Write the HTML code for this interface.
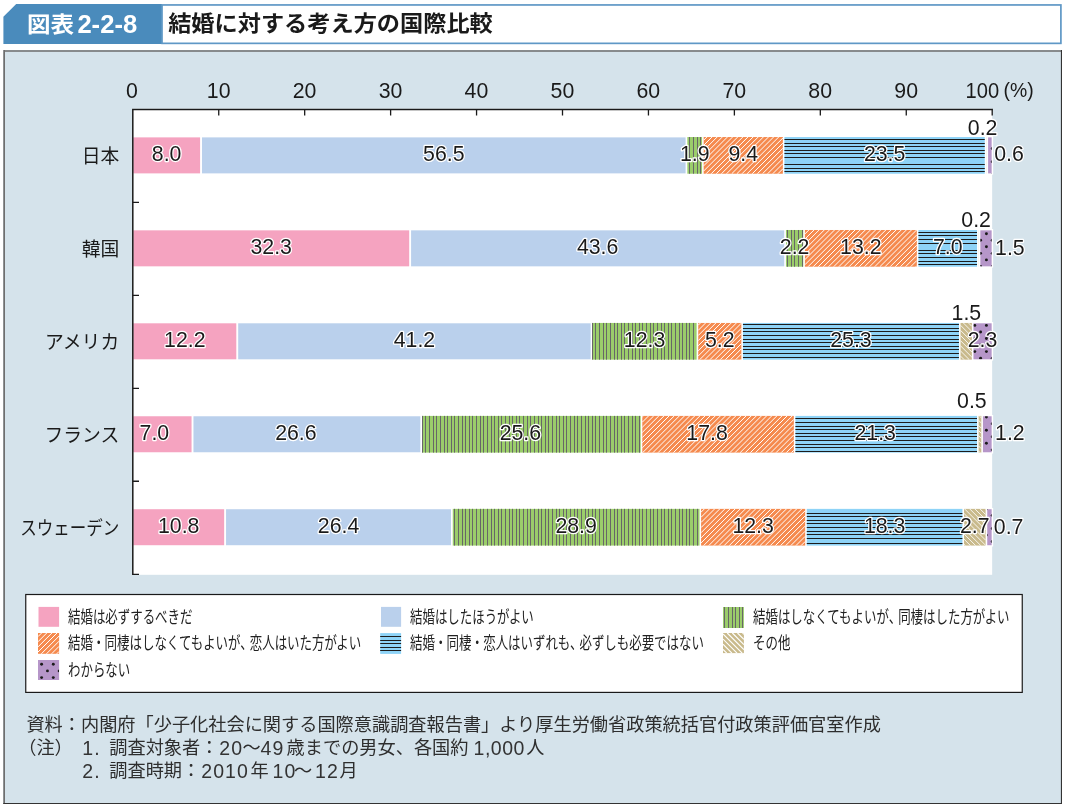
<!DOCTYPE html>
<html lang="ja">
<head>
<meta charset="utf-8">
<title>図表2-2-8 結婚に対する考え方の国際比較</title>
<style>
html,body{margin:0;padding:0;background:#fff;}
body{width:1067px;height:809px;position:relative;overflow:hidden;font-family:"Liberation Sans","Noto Sans CJK JP",sans-serif;color:#1a1a1a;}
.tab{position:absolute;left:3.4px;top:4px;width:158.6px;height:40px;}
.tab span{position:absolute;white-space:nowrap;color:#fff;font-weight:bold;}
.tab .k{left:24px;top:4px;font-size:21.6px;line-height:34px;transform:scaleX(1.09);transform-origin:0 50%;}
.tab .n{left:74px;top:3px;font-size:25.6px;line-height:34px;}
.ttl{position:absolute;left:162px;top:4px;width:899px;height:40px;}
.ttl h1{position:absolute;left:6.2px;top:0;margin:0;font-size:23.2px;line-height:38px;font-weight:bold;white-space:nowrap;color:#1a1a1a;transform:scaleY(0.95);transform-origin:0 31px;}
.chart{position:absolute;left:0;top:0;}
.chart text{font-family:"Liberation Sans","Noto Sans CJK JP",sans-serif;fill:#1a1a1a;}
.chart .v{font-size:21.3px;paint-order:stroke;stroke:#fff;stroke-width:2.5px;stroke-linejoin:round;}
.chart .a{font-size:21.3px;}
.chart .u{font-size:19.4px;}
.chart .c{font-size:18.8px;}
.legend{position:absolute;left:25px;top:594px;width:997px;height:99px;margin:0;padding:0;list-style:none;}
.legend li{position:absolute;height:20px;white-space:nowrap;}
.legend svg{position:absolute;left:0;top:0;}
.legend span{position:absolute;left:29.6px;top:-0.6px;font-size:17px;line-height:26px;font-weight:400;transform:scaleX(0.732);transform-origin:0 50%;color:#222;}
.legend i{font-style:normal;margin:0 -0.5px;}
.legend b{font-weight:inherit;margin-right:-4px;}
.notes{position:absolute;left:0;top:712px;width:1067px;height:80px;margin:0;padding:0;font-size:18.2px;line-height:24px;font-weight:400;color:#2e2e2e;white-space:nowrap;}
.notes p{position:absolute;left:0;margin:0;height:24px;width:1067px;}
.notes span{position:absolute;top:0;}
.notes .d{font-size:19.5px;letter-spacing:1.1px;color:#333;}
</style>
</head>
<body>
<svg class="chart" width="1067" height="809" viewBox="0 0 1067 809">
<polygon points="3.4,16.7 16.2,4.1 162,4.1 162,43.9 3.4,43.9" fill="#4a8bbc"/>
<rect x="162" y="4.95" width="898.9" height="38.4" fill="#fff" stroke="#5f98c6" stroke-width="1.7"/>
<rect x="3.3" y="50.1" width="1058.7" height="753.9" fill="#d5e3eb"/>
<path d="M4.15,50.1V804M3.3,51H1062" fill="none" stroke="#6e6e6e" stroke-width="1.7"/>
<path d="M1061.45,50.1V804M3.3,803.45H1062" fill="none" stroke="#333" stroke-width="1.1"/>
<rect x="25.75" y="594.5" width="996.5" height="97.9" fill="#fff" stroke="#1a1a1a" stroke-width="1.2"/>
<rect x="132" y="108.7" width="860.15" height="466.1" fill="#fff"/>
<rect x="132.3" y="136.08" width="860.85" height="38.6" fill="#fff"/>
<g class="bar">
<rect x="133.25" y="137.38" width="66.84" height="36" fill="#f5a3c0"/>
<rect x="201.99" y="137.38" width="483.6" height="36" fill="#bad0ec"/>
<rect x="687.34" y="137.03" width="14.73" height="36.7" fill="#9bcd6b"/><path d="M689.5,137.03V173.73 M693.5,137.03V173.73 M697.5,137.03V173.73 M700.5,137.03V173.73" stroke="#676767" stroke-width="1" fill="none"/>
<rect x="703.67" y="137.03" width="79.17" height="36.7" fill="#f58a4e"/><path d="M703.67,140.24L706.88,137.03 M703.67,145.37L712.01,137.03 M703.67,150.5L717.14,137.03 M703.67,155.63L722.27,137.03 M703.67,160.76L727.4,137.03 M703.67,165.89L732.53,137.03 M703.67,171.02L737.66,137.03 M706.09,173.73L742.79,137.03 M711.22,173.73L747.92,137.03 M716.35,173.73L753.05,137.03 M721.48,173.73L758.18,137.03 M726.61,173.73L763.31,137.03 M731.74,173.73L768.44,137.03 M736.87,173.73L773.57,137.03 M742,173.73L778.7,137.03 M747.13,173.73L782.84,138.02 M752.26,173.73L782.84,143.15 M757.39,173.73L782.84,148.28 M762.52,173.73L782.84,153.41 M767.65,173.73L782.84,158.54 M772.78,173.73L782.84,163.67 M777.91,173.73L782.84,168.8" stroke="#fff" stroke-width="1" fill="none"/>
<rect x="784.44" y="137.03" width="200.33" height="36.7" fill="#8ed3f7"/><path d="M784.44,139.5H984.78 M784.44,143.5H984.78 M784.44,146.5H984.78 M784.44,150.5H984.78 M784.44,153.5H984.78 M784.44,157.5H984.78 M784.44,164.5H984.78 M784.44,168.5H984.78 M784.44,171.5H984.78" stroke="#1c1c1c" stroke-width="1" fill="none"/>
<rect x="986.38" y="137.03" width="0.12" height="36.7" fill="#c9ba8c"/><path d="M986.38,171.58L986.49,171.69 M986.38,166.45L986.49,166.56 M986.38,161.32L986.49,161.43 M986.38,156.19L986.49,156.3 M986.38,151.06L986.49,151.17 M986.38,145.93L986.49,146.04 M986.38,140.8L986.49,140.91" stroke="#fff" stroke-width="0.85" fill="none"/>
<rect x="988.09" y="137.38" width="3.56" height="36" fill="#b696c9"/><clipPath id="c1"><rect x="988.09" y="137.38" width="3.56" height="36"/></clipPath><g clip-path="url(#c1)" fill="#1a1a1a"><circle cx="992.2" cy="148.55" r="1.45"/><circle cx="992.2" cy="161.65" r="1.45"/><circle cx="992.2" cy="174.75" r="1.45"/></g>
</g>
<text class="c" x="119.2" y="163.38" text-anchor="end">日本</text>
<rect x="132.3" y="229.04" width="860.85" height="38.6" fill="#fff"/>
<g class="bar">
<rect x="133.25" y="230.34" width="275.93" height="36" fill="#f5a3c0"/>
<rect x="411.08" y="230.34" width="373.13" height="36" fill="#bad0ec"/>
<rect x="785.95" y="229.99" width="17.32" height="36.7" fill="#9bcd6b"/><path d="M787.5,229.99V266.69 M791.5,229.99V266.69 M794.5,229.99V266.69 M798.5,229.99V266.69 M802.5,229.99V266.69" stroke="#676767" stroke-width="1" fill="none"/>
<rect x="804.88" y="229.99" width="111.94" height="36.7" fill="#f58a4e"/><path d="M804.88,233.97L808.86,229.99 M804.88,239.1L813.99,229.99 M804.88,244.23L819.12,229.99 M804.88,249.36L824.25,229.99 M804.88,254.49L829.38,229.99 M804.88,259.62L834.51,229.99 M804.88,264.75L839.64,229.99 M808.07,266.69L844.77,229.99 M813.2,266.69L849.9,229.99 M818.33,266.69L855.03,229.99 M823.46,266.69L860.16,229.99 M828.59,266.69L865.29,229.99 M833.72,266.69L870.42,229.99 M838.85,266.69L875.55,229.99 M843.98,266.69L880.68,229.99 M849.11,266.69L885.81,229.99 M854.24,266.69L890.94,229.99 M859.37,266.69L896.07,229.99 M864.5,266.69L901.2,229.99 M869.63,266.69L906.33,229.99 M874.76,266.69L911.46,229.99 M879.89,266.69L916.59,229.99 M885.02,266.69L916.82,234.89 M890.15,266.69L916.82,240.02 M895.28,266.69L916.82,245.15 M900.41,266.69L916.82,250.28 M905.54,266.69L916.82,255.41 M910.67,266.69L916.82,260.54 M915.8,266.69L916.82,265.67" stroke="#fff" stroke-width="1" fill="none"/>
<rect x="918.42" y="229.99" width="58.61" height="36.7" fill="#8ed3f7"/><path d="M918.42,232.5H977.03 M918.42,235.5H977.03 M918.42,239.5H977.03 M918.42,243.5H977.03 M918.42,250.5H977.03 M918.42,253.5H977.03 M918.42,257.5H977.03 M918.42,261.5H977.03 M918.42,264.5H977.03" stroke="#1c1c1c" stroke-width="1" fill="none"/>
<rect x="978.63" y="229.99" width="0.12" height="36.7" fill="#c9ba8c"/><path d="M978.63,266.43L978.75,266.55 M978.63,261.3L978.75,261.42 M978.63,256.17L978.75,256.29 M978.63,251.04L978.75,251.16 M978.63,245.91L978.75,246.03 M978.63,240.78L978.75,240.9 M978.63,235.65L978.75,235.77 M978.63,230.52L978.75,230.64" stroke="#fff" stroke-width="0.85" fill="none"/>
<rect x="980.35" y="230.34" width="11.3" height="36" fill="#b696c9"/><clipPath id="c2"><rect x="980.35" y="230.34" width="11.3" height="36"/></clipPath><g clip-path="url(#c2)" fill="#1a1a1a"><circle cx="986.4" cy="233.7" r="1.45"/><circle cx="980.6" cy="240.25" r="1.45"/><circle cx="992.2" cy="240.25" r="1.45"/><circle cx="986.4" cy="246.8" r="1.45"/><circle cx="980.6" cy="253.35" r="1.45"/><circle cx="992.2" cy="253.35" r="1.45"/><circle cx="986.4" cy="259.9" r="1.45"/><circle cx="980.6" cy="266.45" r="1.45"/><circle cx="992.2" cy="266.45" r="1.45"/></g>
</g>
<text class="c" x="119.2" y="256.34" text-anchor="end">韓国</text>
<rect x="132.3" y="322" width="860.85" height="38.6" fill="#fff"/>
<g class="bar">
<rect x="133.25" y="323.3" width="103.04" height="36" fill="#f5a3c0"/>
<rect x="238.19" y="323.3" width="352.48" height="36" fill="#bad0ec"/>
<rect x="592.42" y="322.95" width="104.2" height="36.7" fill="#9bcd6b"/><path d="M592.5,322.95V359.65 M595.5,322.95V359.65 M599.5,322.95V359.65 M603.5,322.95V359.65 M606.5,322.95V359.65 M610.5,322.95V359.65 M614.5,322.95V359.65 M617.5,322.95V359.65 M621.5,322.95V359.65 M624.5,322.95V359.65 M628.5,322.95V359.65 M632.5,322.95V359.65 M635.5,322.95V359.65 M639.5,322.95V359.65 M642.5,322.95V359.65 M646.5,322.95V359.65 M650.5,322.95V359.65 M653.5,322.95V359.65 M657.5,322.95V359.65 M661.5,322.95V359.65 M664.5,322.95V359.65 M668.5,322.95V359.65 M671.5,322.95V359.65 M675.5,322.95V359.65 M679.5,322.95V359.65 M682.5,322.95V359.65 M686.5,322.95V359.65 M689.5,322.95V359.65 M693.5,322.95V359.65" stroke="#676767" stroke-width="1" fill="none"/>
<rect x="698.22" y="322.95" width="43.13" height="36.7" fill="#f58a4e"/><path d="M698.22,325.24L700.51,322.95 M698.22,330.37L705.64,322.95 M698.22,335.5L710.77,322.95 M698.22,340.63L715.9,322.95 M698.22,345.76L721.03,322.95 M698.22,350.89L726.16,322.95 M698.22,356.02L731.29,322.95 M699.72,359.65L736.42,322.95 M704.85,359.65L741.35,323.15 M709.98,359.65L741.35,328.28 M715.11,359.65L741.35,333.41 M720.24,359.65L741.35,338.54 M725.37,359.65L741.35,343.67 M730.5,359.65L741.35,348.8 M735.63,359.65L741.35,353.93 M740.76,359.65L741.35,359.06" stroke="#fff" stroke-width="1" fill="none"/>
<rect x="742.95" y="322.95" width="216.02" height="36.7" fill="#8ed3f7"/><path d="M742.95,324.5H958.96 M742.95,328.5H958.96 M742.95,331.5H958.96 M742.95,335.5H958.96 M742.95,339.5H958.96 M742.95,342.5H958.96 M742.95,346.5H958.96 M742.95,349.5H958.96 M742.95,353.5H958.96 M742.95,357.5H958.96" stroke="#1c1c1c" stroke-width="1" fill="none"/>
<rect x="960.56" y="322.95" width="11.3" height="36.7" fill="#c9ba8c"/><path d="M960.56,356.09L964.12,359.65 M960.56,350.96L969.25,359.65 M960.56,345.83L971.87,357.14 M960.56,340.7L971.87,352.01 M960.56,335.57L971.87,346.88 M960.56,330.44L971.87,341.75 M960.56,325.31L971.87,336.62 M963.33,322.95L971.87,331.49 M968.46,322.95L971.87,326.36" stroke="#fff" stroke-width="0.85" fill="none"/>
<rect x="973.47" y="323.3" width="18.18" height="36" fill="#b696c9"/><clipPath id="c3"><rect x="973.47" y="323.3" width="18.18" height="36"/></clipPath><g clip-path="url(#c3)" fill="#1a1a1a"><circle cx="974.8" cy="325.4" r="1.45"/><circle cx="986.4" cy="325.4" r="1.45"/><circle cx="980.6" cy="331.95" r="1.45"/><circle cx="992.2" cy="331.95" r="1.45"/><circle cx="974.8" cy="338.5" r="1.45"/><circle cx="986.4" cy="338.5" r="1.45"/><circle cx="980.6" cy="345.05" r="1.45"/><circle cx="992.2" cy="345.05" r="1.45"/><circle cx="974.8" cy="351.6" r="1.45"/><circle cx="986.4" cy="351.6" r="1.45"/><circle cx="980.6" cy="358.15" r="1.45"/><circle cx="992.2" cy="358.15" r="1.45"/></g>
</g>
<text class="c" x="119.2" y="349.3" text-anchor="end">アメリカ</text>
<rect x="132.3" y="414.96" width="860.85" height="38.6" fill="#fff"/>
<g class="bar">
<rect x="133.25" y="416.26" width="58.31" height="36" fill="#f5a3c0"/>
<rect x="193.46" y="416.26" width="226.9" height="36" fill="#bad0ec"/>
<rect x="422.11" y="415.91" width="218.6" height="36.7" fill="#9bcd6b"/><path d="M422.5,415.91V452.61 M425.5,415.91V452.61 M429.5,415.91V452.61 M433.5,415.91V452.61 M436.5,415.91V452.61 M440.5,415.91V452.61 M444.5,415.91V452.61 M447.5,415.91V452.61 M451.5,415.91V452.61 M454.5,415.91V452.61 M458.5,415.91V452.61 M462.5,415.91V452.61 M465.5,415.91V452.61 M469.5,415.91V452.61 M472.5,415.91V452.61 M476.5,415.91V452.61 M480.5,415.91V452.61 M483.5,415.91V452.61 M487.5,415.91V452.61 M491.5,415.91V452.61 M494.5,415.91V452.61 M498.5,415.91V452.61 M501.5,415.91V452.61 M505.5,415.91V452.61 M509.5,415.91V452.61 M512.5,415.91V452.61 M516.5,415.91V452.61 M519.5,415.91V452.61 M523.5,415.91V452.61 M527.5,415.91V452.61 M530.5,415.91V452.61 M534.5,415.91V452.61 M538.5,415.91V452.61 M541.5,415.91V452.61 M545.5,415.91V452.61 M548.5,415.91V452.61 M552.5,415.91V452.61 M556.5,415.91V452.61 M559.5,415.91V452.61 M563.5,415.91V452.61 M566.5,415.91V452.61 M570.5,415.91V452.61 M574.5,415.91V452.61 M577.5,415.91V452.61 M581.5,415.91V452.61 M585.5,415.91V452.61 M588.5,415.91V452.61 M592.5,415.91V452.61 M595.5,415.91V452.61 M599.5,415.91V452.61 M603.5,415.91V452.61 M606.5,415.91V452.61 M610.5,415.91V452.61 M614.5,415.91V452.61 M617.5,415.91V452.61 M621.5,415.91V452.61 M624.5,415.91V452.61 M628.5,415.91V452.61 M632.5,415.91V452.61 M635.5,415.91V452.61 M639.5,415.91V452.61" stroke="#676767" stroke-width="1" fill="none"/>
<rect x="642.31" y="415.91" width="151.51" height="36.7" fill="#f58a4e"/><path d="M642.31,417.06L643.46,415.91 M642.31,422.19L648.59,415.91 M642.31,427.32L653.72,415.91 M642.31,432.45L658.85,415.91 M642.31,437.58L663.98,415.91 M642.31,442.71L669.11,415.91 M642.31,447.84L674.24,415.91 M642.67,452.61L679.37,415.91 M647.8,452.61L684.5,415.91 M652.93,452.61L689.63,415.91 M658.06,452.61L694.76,415.91 M663.19,452.61L699.89,415.91 M668.32,452.61L705.02,415.91 M673.45,452.61L710.15,415.91 M678.58,452.61L715.28,415.91 M683.71,452.61L720.41,415.91 M688.84,452.61L725.54,415.91 M693.97,452.61L730.67,415.91 M699.1,452.61L735.8,415.91 M704.23,452.61L740.93,415.91 M709.36,452.61L746.06,415.91 M714.49,452.61L751.19,415.91 M719.62,452.61L756.32,415.91 M724.75,452.61L761.45,415.91 M729.88,452.61L766.58,415.91 M735.01,452.61L771.71,415.91 M740.14,452.61L776.84,415.91 M745.27,452.61L781.97,415.91 M750.4,452.61L787.1,415.91 M755.53,452.61L792.23,415.91 M760.66,452.61L793.82,419.45 M765.79,452.61L793.82,424.58 M770.92,452.61L793.82,429.71 M776.05,452.61L793.82,434.84 M781.18,452.61L793.82,439.97 M786.31,452.61L793.82,445.1 M791.44,452.61L793.82,450.23" stroke="#fff" stroke-width="1" fill="none"/>
<rect x="795.42" y="415.91" width="181.61" height="36.7" fill="#8ed3f7"/><path d="M795.42,418.5H977.03 M795.42,422.5H977.03 M795.42,426.5H977.03 M795.42,429.5H977.03 M795.42,433.5H977.03 M795.42,436.5H977.03 M795.42,440.5H977.03 M795.42,444.5H977.03 M795.42,447.5H977.03 M795.42,451.5H977.03" stroke="#1c1c1c" stroke-width="1" fill="none"/>
<rect x="978.63" y="415.91" width="2.7" height="36.7" fill="#c9ba8c"/><path d="M978.63,451.11L980.13,452.61 M978.63,445.98L981.33,448.68 M978.63,440.85L981.33,443.55 M978.63,435.72L981.33,438.42 M978.63,430.59L981.33,433.29 M978.63,425.46L981.33,428.16 M978.63,420.33L981.33,423.03 M979.34,415.91L981.33,417.9" stroke="#fff" stroke-width="0.85" fill="none"/>
<rect x="982.93" y="416.26" width="8.72" height="36" fill="#b696c9"/><clipPath id="c4"><rect x="982.93" y="416.26" width="8.72" height="36"/></clipPath><g clip-path="url(#c4)" fill="#1a1a1a"><circle cx="986.4" cy="417.1" r="1.45"/><circle cx="992.2" cy="423.65" r="1.45"/><circle cx="986.4" cy="430.2" r="1.45"/><circle cx="992.2" cy="436.75" r="1.45"/><circle cx="986.4" cy="443.3" r="1.45"/><circle cx="992.2" cy="449.85" r="1.45"/></g>
</g>
<text class="c" x="119.2" y="442.26" text-anchor="end">フランス</text>
<rect x="132.3" y="507.92" width="860.85" height="38.6" fill="#fff"/>
<g class="bar">
<rect x="133.25" y="509.22" width="90.9" height="36" fill="#f5a3c0"/>
<rect x="226.05" y="509.22" width="224.95" height="36" fill="#bad0ec"/>
<rect x="452.76" y="508.87" width="246.74" height="36.7" fill="#9bcd6b"/><path d="M454.5,508.87V545.57 M458.5,508.87V545.57 M462.5,508.87V545.57 M465.5,508.87V545.57 M469.5,508.87V545.57 M472.5,508.87V545.57 M476.5,508.87V545.57 M480.5,508.87V545.57 M483.5,508.87V545.57 M487.5,508.87V545.57 M491.5,508.87V545.57 M494.5,508.87V545.57 M498.5,508.87V545.57 M501.5,508.87V545.57 M505.5,508.87V545.57 M509.5,508.87V545.57 M512.5,508.87V545.57 M516.5,508.87V545.57 M519.5,508.87V545.57 M523.5,508.87V545.57 M527.5,508.87V545.57 M530.5,508.87V545.57 M534.5,508.87V545.57 M538.5,508.87V545.57 M541.5,508.87V545.57 M545.5,508.87V545.57 M548.5,508.87V545.57 M552.5,508.87V545.57 M556.5,508.87V545.57 M559.5,508.87V545.57 M563.5,508.87V545.57 M566.5,508.87V545.57 M570.5,508.87V545.57 M574.5,508.87V545.57 M577.5,508.87V545.57 M581.5,508.87V545.57 M585.5,508.87V545.57 M588.5,508.87V545.57 M592.5,508.87V545.57 M595.5,508.87V545.57 M599.5,508.87V545.57 M603.5,508.87V545.57 M606.5,508.87V545.57 M610.5,508.87V545.57 M614.5,508.87V545.57 M617.5,508.87V545.57 M621.5,508.87V545.57 M624.5,508.87V545.57 M628.5,508.87V545.57 M632.5,508.87V545.57 M635.5,508.87V545.57 M639.5,508.87V545.57 M642.5,508.87V545.57 M646.5,508.87V545.57 M650.5,508.87V545.57 M653.5,508.87V545.57 M657.5,508.87V545.57 M661.5,508.87V545.57 M664.5,508.87V545.57 M668.5,508.87V545.57 M671.5,508.87V545.57 M675.5,508.87V545.57 M679.5,508.87V545.57 M682.5,508.87V545.57 M686.5,508.87V545.57 M689.5,508.87V545.57 M693.5,508.87V545.57 M697.5,508.87V545.57" stroke="#676767" stroke-width="1" fill="none"/>
<rect x="701.09" y="508.87" width="104.09" height="36.7" fill="#f58a4e"/><path d="M701.09,512.18L704.4,508.87 M701.09,517.31L709.53,508.87 M701.09,522.44L714.66,508.87 M701.09,527.57L719.79,508.87 M701.09,532.7L724.92,508.87 M701.09,537.83L730.05,508.87 M701.09,542.96L735.18,508.87 M703.61,545.57L740.31,508.87 M708.74,545.57L745.44,508.87 M713.87,545.57L750.57,508.87 M719,545.57L755.7,508.87 M724.13,545.57L760.83,508.87 M729.26,545.57L765.96,508.87 M734.39,545.57L771.09,508.87 M739.52,545.57L776.22,508.87 M744.65,545.57L781.35,508.87 M749.78,545.57L786.48,508.87 M754.91,545.57L791.61,508.87 M760.04,545.57L796.74,508.87 M765.17,545.57L801.87,508.87 M770.3,545.57L805.18,510.69 M775.43,545.57L805.18,515.82 M780.56,545.57L805.18,520.95 M785.69,545.57L805.18,526.08 M790.82,545.57L805.18,531.21 M795.95,545.57L805.18,536.34 M801.08,545.57L805.18,541.47" stroke="#fff" stroke-width="1" fill="none"/>
<rect x="806.78" y="508.87" width="155.65" height="36.7" fill="#8ed3f7"/><path d="M806.78,513.5H962.43 M806.78,516.5H962.43 M806.78,520.5H962.43 M806.78,523.5H962.43 M806.78,527.5H962.43 M806.78,531.5H962.43 M806.78,534.5H962.43 M806.78,538.5H962.43 M806.78,543.5H962.43" stroke="#1c1c1c" stroke-width="1" fill="none"/>
<rect x="964.03" y="508.87" width="21.6" height="36.7" fill="#c9ba8c"/><path d="M964.03,544.24L965.36,545.57 M964.03,539.11L970.49,545.57 M964.03,533.98L975.62,545.57 M964.03,528.85L980.75,545.57 M964.03,523.72L985.63,545.32 M964.03,518.59L985.63,540.19 M964.03,513.46L985.63,535.06 M964.57,508.87L985.63,529.93 M969.7,508.87L985.63,524.8 M974.83,508.87L985.63,519.67 M979.96,508.87L985.63,514.54 M985.09,508.87L985.63,509.41" stroke="#fff" stroke-width="0.85" fill="none"/>
<rect x="987.23" y="509.22" width="4.42" height="36" fill="#b696c9"/><clipPath id="c5"><rect x="987.23" y="509.22" width="4.42" height="36"/></clipPath><g clip-path="url(#c5)" fill="#1a1a1a"><circle cx="986.4" cy="508.8" r="1.45"/><circle cx="992.2" cy="515.35" r="1.45"/><circle cx="986.4" cy="521.9" r="1.45"/><circle cx="992.2" cy="528.45" r="1.45"/><circle cx="986.4" cy="535" r="1.45"/><circle cx="992.2" cy="541.55" r="1.45"/></g>
</g>
<text class="c" x="119.2" y="535.22" text-anchor="end" textLength="99" lengthAdjust="spacingAndGlyphs">スウェーデン</text>
<path d="M132.8,108.65 V574.9 M132.05,109.4 H992.9" fill="none" stroke="#1a1a1a" stroke-width="1.5"/>
<path d="M218.74,109.4v6.2 M304.68,109.4v6.2 M390.62,109.4v6.2 M476.56,109.4v6.2 M562.5,109.4v6.2 M648.44,109.4v6.2 M734.38,109.4v6.2 M820.32,109.4v6.2 M906.26,109.4v6.2 M992.2,109.4v6.2 M132.8,202.36h6.2 M132.8,295.32h6.2 M132.8,388.28h6.2 M132.8,481.24h6.2 M132.8,574.4h6.2" fill="none" stroke="#1a1a1a" stroke-width="1.3"/>
<text class="a" x="132" y="97.7" text-anchor="middle">0</text>
<text class="a" x="218.64" y="97.7" text-anchor="middle">10</text>
<text class="a" x="304.58" y="97.7" text-anchor="middle">20</text>
<text class="a" x="390.52" y="97.7" text-anchor="middle">30</text>
<text class="a" x="476.46" y="97.7" text-anchor="middle">40</text>
<text class="a" x="562.4" y="97.7" text-anchor="middle">50</text>
<text class="a" x="648.34" y="97.7" text-anchor="middle">60</text>
<text class="a" x="734.28" y="97.7" text-anchor="middle">70</text>
<text class="a" x="820.22" y="97.7" text-anchor="middle">80</text>
<text class="a" x="906.16" y="97.7" text-anchor="middle">90</text>
<text class="a" x="982.4" y="97.7" text-anchor="middle" textLength="33.6" lengthAdjust="spacingAndGlyphs">100</text>
<text class="a u" x="1003.6" y="97">(%)</text>
<text class="v" x="166.67" y="160.98" text-anchor="middle">8.0</text>
<text class="v" x="443.79" y="160.98" text-anchor="middle">56.5</text>
<text class="v" x="694.71" y="160.98" text-anchor="middle">1.9</text>
<text class="v" x="743.26" y="160.98" text-anchor="middle">9.4</text>
<text class="v" x="884.61" y="160.98" text-anchor="middle">23.5</text>
<text class="v" x="982.6" y="135" text-anchor="middle">0.2</text>
<text class="v" x="1009" y="160.9" text-anchor="middle">0.6</text>
<text class="v" x="271.21" y="253.94" text-anchor="middle">32.3</text>
<text class="v" x="597.64" y="253.94" text-anchor="middle">43.6</text>
<text class="v" x="794.62" y="253.94" text-anchor="middle">2.2</text>
<text class="v" x="860.85" y="253.94" text-anchor="middle">13.2</text>
<text class="v" x="947.72" y="253.94" text-anchor="middle">7.0</text>
<text class="v" x="976.1" y="226.7" text-anchor="middle">0.2</text>
<text class="v" x="1009.9" y="254.7" text-anchor="middle">1.5</text>
<text class="v" x="184.77" y="347.1" text-anchor="middle">12.2</text>
<text class="v" x="414.43" y="347.1" text-anchor="middle">41.2</text>
<text class="v" x="644.52" y="347.1" text-anchor="middle">12.3</text>
<text class="v" x="719.78" y="347.1" text-anchor="middle">5.2</text>
<text class="v" x="850.96" y="347.1" text-anchor="middle">25.3</text>
<text class="v" x="966.4" y="319.9" text-anchor="middle">1.5</text>
<text class="v" x="982.56" y="347.1" text-anchor="middle">2.3</text>
<text class="v" x="154.41" y="439.86" text-anchor="middle">7.0</text>
<text class="v" x="295.91" y="439.86" text-anchor="middle">26.6</text>
<text class="v" x="520.41" y="439.86" text-anchor="middle">25.6</text>
<text class="v" x="707.06" y="439.86" text-anchor="middle">17.8</text>
<text class="v" x="875.22" y="439.86" text-anchor="middle">21.3</text>
<text class="v" x="971.9" y="407.9" text-anchor="middle">0.5</text>
<text class="v" x="1009.9" y="440.1" text-anchor="middle">1.2</text>
<text class="v" x="178.7" y="533.02" text-anchor="middle">10.8</text>
<text class="v" x="338.53" y="533.02" text-anchor="middle">26.4</text>
<text class="v" x="576.12" y="533.02" text-anchor="middle">28.9</text>
<text class="v" x="753.14" y="533.02" text-anchor="middle">12.3</text>
<text class="v" x="884.61" y="533.02" text-anchor="middle">18.3</text>
<text class="v" x="974.83" y="533.02" text-anchor="middle">2.7</text>
<text class="v" x="1008.6" y="533.7" text-anchor="middle">0.7</text>
</svg>
<div class="tab"><span class="k">図表</span><span class="n">2-2-8</span></div>
<div class="ttl"><h1>結婚に対する考え方の国際比較</h1></div>
<ul class="legend">
<li style="left:13px;top:12px"><svg width="23" height="23" viewBox="38 606 23 23"><rect x="38.5" y="606.9" width="20.6" height="19.9" fill="#f5a3c0"/></svg><span>結婚は必ずするべきだ</span></li>
<li style="left:355px;top:12px"><svg width="23" height="23" viewBox="380 606 23 23"><rect x="381" y="606.9" width="20.1" height="19.9" fill="#bad0ec"/></svg><span>結婚はしたほうがよい</span></li>
<li style="left:698px;top:12px"><svg width="23" height="23" viewBox="723 606 23 23"><rect x="723" y="607" width="20.9" height="21" fill="#9bcd6b"/><path d="M724.5,607V628 M728.5,607V628 M732.5,607V628 M735.5,607V628 M739.5,607V628 M742.5,607V628" stroke="#676767" stroke-width="1" fill="none"/></svg><span>結婚はしなくてもよいが<b>、</b>同棲はした方がよい</span></li>
<li style="left:13px;top:38px"><svg width="23" height="23" viewBox="38 632 23 23"><rect x="38" y="633" width="21.1" height="20.8" fill="#f58a4e"/><path d="M38,636.62L41.62,633 M38,641.75L46.75,633 M38,646.88L51.88,633 M38,652.01L57.01,633 M41.34,653.8L59.1,636.04 M46.47,653.8L59.1,641.17 M51.6,653.8L59.1,646.3 M56.73,653.8L59.1,651.43" stroke="#fff" stroke-width="1" fill="none"/></svg><span>結婚<i>・</i>同棲はしなくてもよいが<b>、</b>恋人はいた方がよい</span></li>
<li style="left:355px;top:38px"><svg width="23" height="23" viewBox="380 632 23 23"><rect x="380.2" y="633.1" width="20.9" height="20.8" fill="#8ed3f7"/><path d="M380.2,636.5H401.1 M380.2,640.5H401.1 M380.2,643.5H401.1 M380.2,647.5H401.1 M380.2,650.5H401.1" stroke="#1c1c1c" stroke-width="1" fill="none"/></svg><span>結婚<i>・</i>同棲<i>・</i>恋人はいずれも<b>、</b>必ずしも必要ではない</span></li>
<li style="left:698px;top:38px"><svg width="23" height="23" viewBox="723 632 23 23"><rect x="723" y="633" width="20.9" height="20.1" fill="#c9ba8c"/><path d="M723,649.32L726.78,653.1 M723,644.19L731.91,653.1 M723,639.06L737.04,653.1 M723,633.93L742.17,653.1 M727.2,633L743.9,649.7 M732.33,633L743.9,644.57 M737.46,633L743.9,639.44 M742.59,633L743.9,634.31" stroke="#fff" stroke-width="1.15" fill="none"/></svg><span>その他</span></li>
<li style="left:13px;top:65px"><svg width="23" height="23" viewBox="38 659 23 23"><rect x="38" y="660" width="21.1" height="20" fill="#b696c9"/><clipPath id="c6"><rect x="38" y="660" width="21.1" height="20"/></clipPath><g clip-path="url(#c6)" fill="#1a1a1a"><circle cx="41.6" cy="664.2" r="1.45"/><circle cx="53.3" cy="664.2" r="1.45"/><circle cx="47.45" cy="670.9" r="1.45"/><circle cx="59.15" cy="670.9" r="1.45"/><circle cx="41.6" cy="677.6" r="1.45"/><circle cx="53.3" cy="677.6" r="1.45"/></g></svg><span>わからない</span></li>
</ul>
<div class="notes">
<p style="top:1px"><span style="left:26.4px">資料：内閣府「少子化社会に関する国際意識調査報告書」より厚生労働省政策統括官付政策評価官室作成</span></p>
<p style="top:24px"><span style="left:18.2px">（注）</span><span class="d" style="left:82.3px">1.</span><span style="left:109.3px">調査対象者：</span><span class="d" style="left:219.3px">20</span><span style="left:242.5px">〜</span><span class="d" style="left:260.6px">49</span><span style="left:286.6px">歳までの男女、各国約</span><span class="d" style="left:473.6px;letter-spacing:0.5px">1,000</span><span style="left:526.2px">人</span></p>
<p style="top:46.6px"><span class="d" style="left:82.3px">2.</span><span style="left:109.3px">調査時期：</span><span class="d" style="left:201.2px">2010</span><span style="left:250.6px">年</span><span class="d" style="left:272.5px">10</span><span style="left:294px">〜</span><span class="d" style="left:315px">12</span><span style="left:339.5px">月</span></p>
</div>
</body>
</html>
